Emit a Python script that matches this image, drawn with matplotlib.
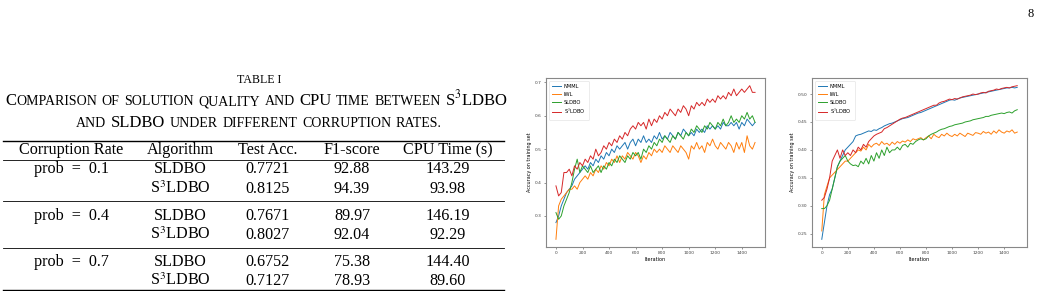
import numpy as np
import matplotlib
matplotlib.use("Agg")
import matplotlib.pyplot as plt
from matplotlib.lines import Line2D

plt.rcParams["mathtext.fontset"] = "stix"
SERIF = "Liberation Serif"

# ---- table data ----
col_headers = ["Corruption Rate", "Algorithm", "Test Acc.", "F1-score", "CPU Time (s)"]
rates = ["prob  =  0.1", "prob  =  0.4", "prob  =  0.7"]
algorithms = ["SLDBO", "S$^3$LDBO"]
test_acc = [["0.7721", "0.8125"], ["0.7671", "0.8027"], ["0.6752", "0.7127"]]
f1_score = [["92.88", "94.39"], ["89.97", "92.04"], ["75.38", "78.93"]]
cpu_time = [["143.29", "93.98"], ["146.19", "92.29"], ["144.40", "89.60"]]

# ---- curve data (every 20 iterations, 0..1500) ----
iterations = list(range(0, 1501, 20))
series_names = ["NMML", "IWL", "SLDBO", "S$^3$LDBO"]

left_nmml = [0.28, 0.30, 0.33, 0.35, 0.37, 0.38, 0.39, 0.41, 0.42, 0.43,
             0.44, 0.45, 0.44, 0.46, 0.45, 0.47, 0.46, 0.48, 0.47, 0.49,
             0.48, 0.50, 0.49, 0.51, 0.50, 0.51, 0.52, 0.50, 0.52, 0.53,
             0.51, 0.53, 0.52, 0.54, 0.52, 0.53, 0.52, 0.54, 0.53, 0.55,
             0.53, 0.54, 0.53, 0.55, 0.54, 0.53, 0.55, 0.54, 0.56, 0.55,
             0.54, 0.55, 0.54, 0.56, 0.55, 0.56, 0.55, 0.57, 0.56, 0.57,
             0.56, 0.57, 0.56, 0.58, 0.57, 0.57, 0.58, 0.57, 0.58, 0.56,
             0.58, 0.57, 0.59, 0.58, 0.57, 0.58]
left_iwl = [0.23, 0.33, 0.35, 0.36, 0.37, 0.38, 0.38, 0.39, 0.38, 0.40,
            0.41, 0.42, 0.41, 0.43, 0.42, 0.44, 0.43, 0.45, 0.44, 0.46,
            0.45, 0.47, 0.46, 0.48, 0.46, 0.48, 0.47, 0.49, 0.48, 0.47,
            0.49, 0.48, 0.46, 0.48, 0.47, 0.49, 0.48, 0.50, 0.49, 0.50,
            0.49, 0.51, 0.50, 0.49, 0.51, 0.50, 0.49, 0.51, 0.50, 0.49,
            0.47, 0.51, 0.50, 0.52, 0.50, 0.51, 0.49, 0.52, 0.51, 0.53,
            0.51, 0.50, 0.52, 0.51, 0.50, 0.52, 0.51, 0.49, 0.52, 0.50,
            0.52, 0.49, 0.54, 0.51, 0.50, 0.52]
left_sldbo = [0.31, 0.29, 0.30, 0.33, 0.35, 0.37, 0.40, 0.44, 0.47, 0.43,
              0.45, 0.44, 0.43, 0.45, 0.43, 0.44, 0.45, 0.43, 0.45, 0.44,
              0.46, 0.45, 0.47, 0.46, 0.48, 0.47, 0.46, 0.48, 0.47, 0.49,
              0.48, 0.49, 0.47, 0.50, 0.49, 0.51, 0.50, 0.52, 0.51, 0.53,
              0.52, 0.54, 0.53, 0.52, 0.54, 0.53, 0.55, 0.54, 0.53, 0.55,
              0.54, 0.56, 0.55, 0.57, 0.56, 0.55, 0.57, 0.56, 0.58, 0.57,
              0.56, 0.58, 0.57, 0.59, 0.57, 0.58, 0.60, 0.58, 0.59, 0.58,
              0.60, 0.59, 0.61, 0.59, 0.60, 0.58]
left_s3ldbo = [0.39, 0.36, 0.37, 0.43, 0.43, 0.44, 0.42, 0.45, 0.44, 0.46,
               0.45, 0.47, 0.46, 0.48, 0.47, 0.50, 0.48, 0.49, 0.51, 0.50,
               0.52, 0.51, 0.53, 0.52, 0.54, 0.53, 0.55, 0.54, 0.56, 0.57,
               0.56, 0.58, 0.57, 0.58, 0.56, 0.59, 0.57, 0.59, 0.58, 0.60,
               0.59, 0.61, 0.60, 0.62, 0.61, 0.60, 0.62, 0.61, 0.63, 0.62,
               0.60, 0.63, 0.62, 0.64, 0.63, 0.64, 0.63, 0.65, 0.64, 0.65,
               0.64, 0.66, 0.65, 0.66, 0.65, 0.67, 0.66, 0.68, 0.66, 0.67,
               0.68, 0.67, 0.68, 0.69, 0.67, 0.67]

right_nmml = [0.24, 0.27, 0.30, 0.32, 0.33, 0.35, 0.37, 0.38, 0.39, 0.40,
              0.405, 0.41, 0.415, 0.425, 0.427, 0.428, 0.43, 0.432, 0.434, 0.433,
              0.436, 0.435, 0.438, 0.44, 0.443, 0.445, 0.447, 0.448, 0.45, 0.452,
              0.454, 0.456, 0.457, 0.458, 0.46, 0.462, 0.464, 0.466, 0.467, 0.469,
              0.471, 0.473, 0.475, 0.477, 0.479, 0.481, 0.483, 0.485, 0.487, 0.489,
              0.49, 0.489, 0.491, 0.493, 0.494, 0.495, 0.496, 0.497, 0.498, 0.499,
              0.50, 0.501, 0.502, 0.503, 0.504, 0.505, 0.506, 0.507, 0.508, 0.509,
              0.51, 0.511, 0.511, 0.512, 0.511, 0.512]
right_iwl = [0.255, 0.32, 0.335, 0.35, 0.355, 0.36, 0.365, 0.37, 0.375, 0.38,
             0.38, 0.385, 0.39, 0.395, 0.40, 0.398, 0.405, 0.40, 0.41, 0.405,
             0.41, 0.412, 0.408, 0.415, 0.41, 0.412, 0.408, 0.414, 0.41, 0.415,
             0.412, 0.416, 0.414, 0.418, 0.415, 0.42, 0.418, 0.42, 0.422, 0.418,
             0.422, 0.425, 0.42, 0.428, 0.424, 0.422, 0.428, 0.425, 0.43, 0.426,
             0.424, 0.428, 0.425, 0.43, 0.427, 0.424, 0.43, 0.428, 0.426, 0.431,
             0.43, 0.428, 0.433, 0.43, 0.432, 0.428, 0.434, 0.43, 0.436, 0.432,
             0.43, 0.434, 0.432, 0.436, 0.43, 0.432]
right_sldbo = [0.295, 0.295, 0.30, 0.31, 0.33, 0.35, 0.37, 0.38, 0.385, 0.39,
               0.38, 0.375, 0.372, 0.373, 0.37, 0.38, 0.375, 0.385, 0.375, 0.39,
               0.38, 0.395, 0.385, 0.40, 0.39, 0.405, 0.395, 0.40, 0.40, 0.405,
               0.40, 0.408, 0.41, 0.405, 0.412, 0.41, 0.415, 0.418, 0.42, 0.418,
               0.42, 0.425, 0.428, 0.43, 0.432, 0.435, 0.437, 0.438, 0.44, 0.442,
               0.443, 0.445, 0.446, 0.447, 0.448, 0.45, 0.451, 0.452, 0.454, 0.455,
               0.456, 0.457, 0.458, 0.46, 0.46, 0.462, 0.463, 0.464, 0.465, 0.466,
               0.465, 0.467, 0.468, 0.466, 0.47, 0.472]
right_s3ldbo = [0.31, 0.315, 0.33, 0.35, 0.38, 0.39, 0.40, 0.385, 0.40, 0.39,
                0.395, 0.39, 0.40, 0.395, 0.405, 0.40, 0.41, 0.405, 0.415, 0.42,
                0.425, 0.428, 0.43, 0.432, 0.438, 0.44, 0.443, 0.446, 0.449, 0.452,
                0.455, 0.457, 0.458, 0.46, 0.462, 0.464, 0.466, 0.468, 0.47, 0.472,
                0.474, 0.476, 0.478, 0.48, 0.48, 0.484, 0.486, 0.487, 0.489, 0.491,
                0.49, 0.492, 0.491, 0.493, 0.495, 0.496, 0.497, 0.498, 0.50, 0.499,
                0.50, 0.502, 0.503, 0.502, 0.505, 0.506, 0.507, 0.509, 0.508, 0.51,
                0.511, 0.512, 0.511, 0.513, 0.514, 0.515]

W, H = 1040, 291
fig = plt.figure(figsize=(W / 100, H / 100), dpi=100)


def fx(px):
    return px / W


def fy(py):
    return 1 - py / H


# page number
fig.text(fx(1031), fy(17), "8", fontsize=9, family=SERIF, ha="center", va="baseline")

# ---- table title and small-caps caption ----
fig.text(fx(259), fy(83), "TABLE I", fontsize=8.6, family=SERIF, ha="center", va="baseline")

renderer = fig.canvas.get_renderer()
BIG, SMALL = 12, 10


def caption_line(py, words):
    # words: list of words, each a list of (text, size) parts
    placed = []
    for parts in words:
        items = []
        for s, size in parts:
            t = fig.text(0, fy(py), s, fontsize=size, family=SERIF, va="baseline", ha="left")
            items.append((t, t.get_window_extent(renderer).width))
        placed.append(items)
    return placed


def layout_line(placed, x0, gap):
    x = x0
    for items in placed:
        for t, w in items:
            t.set_x(fx(x))
            x += w
        x += gap


line1 = caption_line(105, [[("C", BIG), ("OMPARISON", SMALL)], [("OF", SMALL)],
                           [("SOLUTION", SMALL)], [("QUALITY", SMALL)], [("AND", SMALL)],
                           [("CPU", BIG)], [("TIME", SMALL)], [("BETWEEN", SMALL)],
                           [("S$^3$LDBO", BIG)]])
line2 = caption_line(127, [[("AND", SMALL)], [("SLDBO", BIG)], [("UNDER", SMALL)],
                           [("DIFFERENT", SMALL)], [("CORRUPTION", SMALL)], [("RATES.", SMALL)]])

natural1 = sum(w for items in line1 for _, w in items)
gap = (503 - natural1) / (len(line1) - 1)
layout_line(line1, 5, gap)
natural2 = sum(w for items in line2 for _, w in items) + gap * (len(line2) - 1)
layout_line(line2, 259 - natural2 / 2, gap)

# ---- table body ----
col_x = [71, 180, 268, 352, 448]
fs = 11.6
header_y = 154
for x, h in zip(col_x, col_headers):
    fig.text(fx(x), fy(header_y), h, fontsize=fs, family=SERIF, ha="center", va="baseline")

row_y = [[173, 193], [220, 239], [266, 285]]
for g in range(3):
    fig.text(fx(col_x[0]), fy(row_y[g][0]), rates[g], fontsize=fs, family=SERIF,
             ha="center", va="baseline")
    for k in range(2):
        vals = [algorithms[k], test_acc[g][k], f1_score[g][k], cpu_time[g][k]]
        for x, v in zip(col_x[1:], vals):
            fig.text(fx(x), fy(row_y[g][k]), v, fontsize=fs, family=SERIF,
                     ha="center", va="baseline")

for py, lw in [(140.5, 1.0), (159.5, 0.6), (200.5, 0.6), (247.5, 0.6), (290, 1.0)]:
    fig.add_artist(Line2D([fx(3), fx(504)], [fy(py), fy(py)], color="black", lw=lw))

# ---- training curves ----
colors = ["#1f77b4", "#ff7f0e", "#2ca02c", "#d62728"]
panels = [
    (546, 219, [left_nmml, left_iwl, left_sldbo, left_s3ldbo], [0.3, 0.4, 0.5, 0.6, 0.7], "{:.1f}"),
    (812, 215, [right_nmml, right_iwl, right_sldbo, right_s3ldbo],
     [0.25, 0.30, 0.35, 0.40, 0.45, 0.50], "{:.2f}"),
]
for left, width, data, yticks, fmt in panels:
    ax = fig.add_axes([fx(left), fy(247), width / W, 169 / H])
    for name, ys, c in zip(series_names, data, colors):
        ax.plot(iterations, ys, color=c, lw=0.7, label=name)
    ax.set_xticks(range(0, 1401, 200))
    ax.set_yticks(yticks)
    ax.set_yticklabels([fmt.format(v) for v in yticks])
    ax.tick_params(labelsize=3.2, length=1.5, width=0.4, pad=1.5, colors="#444444")
    ax.set_xlabel("Iteration", fontsize=3.5, labelpad=1.5)
    ax.set_ylabel("Accuracy on training set", fontsize=3.5, labelpad=2)
    for s in ax.spines.values():
        s.set_color("#888888")
        s.set_linewidth(0.8)
    leg = ax.legend(loc="upper left", fontsize=3.7, handlelength=1.7, handletextpad=0.6,
                    borderpad=0.7, labelspacing=0.55, frameon=True, framealpha=1,
                    edgecolor="#dddddd")
    leg.get_frame().set_linewidth(0.4)

fig.savefig("out.png", dpi=100)
